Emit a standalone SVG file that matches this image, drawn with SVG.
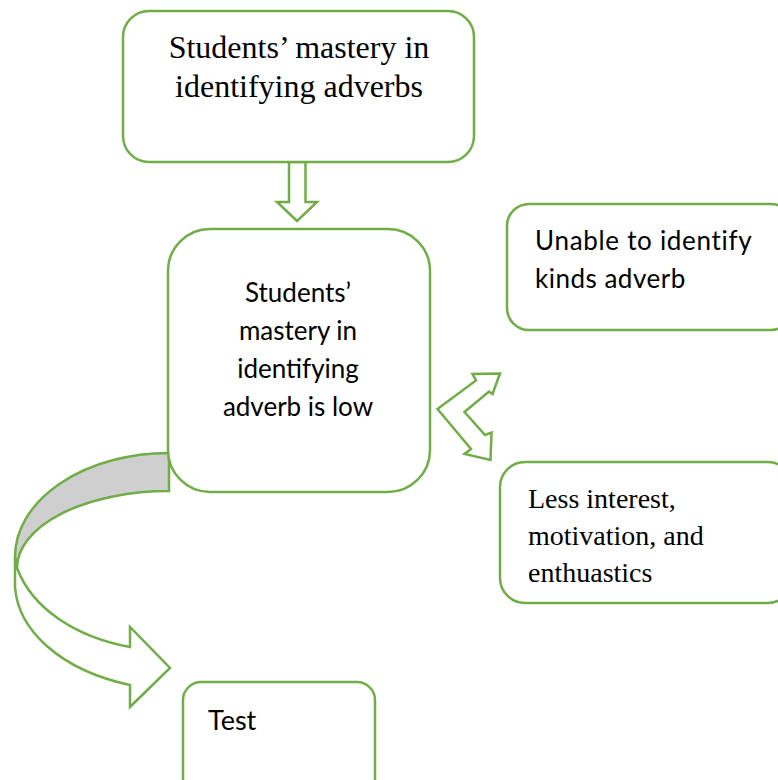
<svg xmlns="http://www.w3.org/2000/svg" width="778" height="780" viewBox="0 0 778 780">
  <style>
    .box { fill: #ffffff; stroke: #70AD47; stroke-width: 2.5; }
    .conn { fill: #ffffff; stroke: #70AD47; stroke-width: 2.5; stroke-linejoin: miter; }
    .band { fill: #cfcfcf; stroke: #70AD47; stroke-width: 2.5; }
    .serif { font-family: "Liberation Serif", "Times New Roman", serif; fill: #000000; }
    .sans { font-family: Lato, "Open Sans", sans-serif; fill: #000000; }
  </style>
  <rect width="778" height="780" fill="#ffffff"/>

  <g id="connectors">
    <!-- block arrow from the top box down to the central box -->
    <polygon class="conn" points="289,162 305.5,162 305.5,202 317,202 297,221 277,202 289,202"/>
    <!-- two-headed bent arrow pointing to the causes on the right -->
    <polygon class="conn" points="437.5,409 476,380.5 472.5,374 500,373.5 492.5,394 489,391.5 464.5,412 485,435 491.5,432.5 490.5,460 464.5,454 471,449"/>
    <!-- curved arrow: back of the band -->
    <path class="band" d="M169,453 A154,104 0 0 0 15,557 L17,568 A152,77 0 0 1 169,491 Z"/>
    <!-- curved arrow: front of the band with its head pointing at the Test box -->
    <path class="conn" d="M15,557 L15,587 C18,630 60,670 130,685 L130,707 L170,668 L130,627 L130,647 C75,637 32,608 17,568 Z"/>
  </g>

  <g id="node-top">
    <rect class="box" x="123" y="11" width="351" height="151" rx="26" ry="26"/>
    <text class="serif" font-size="32" text-anchor="middle" x="299" y="58">Students’ mastery in</text>
    <text class="serif" font-size="32" text-anchor="middle" x="299" y="97">identifying adverbs</text>
  </g>

  <g id="node-center">
    <rect class="box" x="168" y="229" width="262" height="263" rx="42" ry="42"/>
    <text class="sans" font-size="26" text-anchor="middle" x="298" y="302">Students’</text>
    <text class="sans" font-size="26" text-anchor="middle" x="298" y="340">mastery in</text>
    <text class="sans" font-size="26" text-anchor="middle" x="298" y="378">identifying</text>
    <text class="sans" font-size="26" text-anchor="middle" x="298" y="416">adverb is low</text>
  </g>

  <g id="node-unable">
    <rect class="box" x="507" y="204" width="286" height="126" rx="22" ry="22"/>
    <text class="sans" font-size="26" letter-spacing="0.7" x="535" y="250">Unable to identify</text>
    <text class="sans" font-size="26" letter-spacing="0.5" x="535" y="288">kinds adverb</text>
  </g>

  <g id="node-interest">
    <rect class="box" x="500" y="462" width="293" height="141" rx="25" ry="25"/>
    <text class="serif" font-size="28" x="528" y="508">Less interest,</text>
    <text class="serif" font-size="28" x="528" y="545">motivation, and</text>
    <text class="serif" font-size="28" x="528" y="582">enthuastics</text>
  </g>

  <g id="node-test">
    <rect class="box" x="183" y="682" width="192" height="120" rx="18" ry="18"/>
    <text class="sans" font-size="27" x="208" y="730">Test</text>
  </g>
</svg>
